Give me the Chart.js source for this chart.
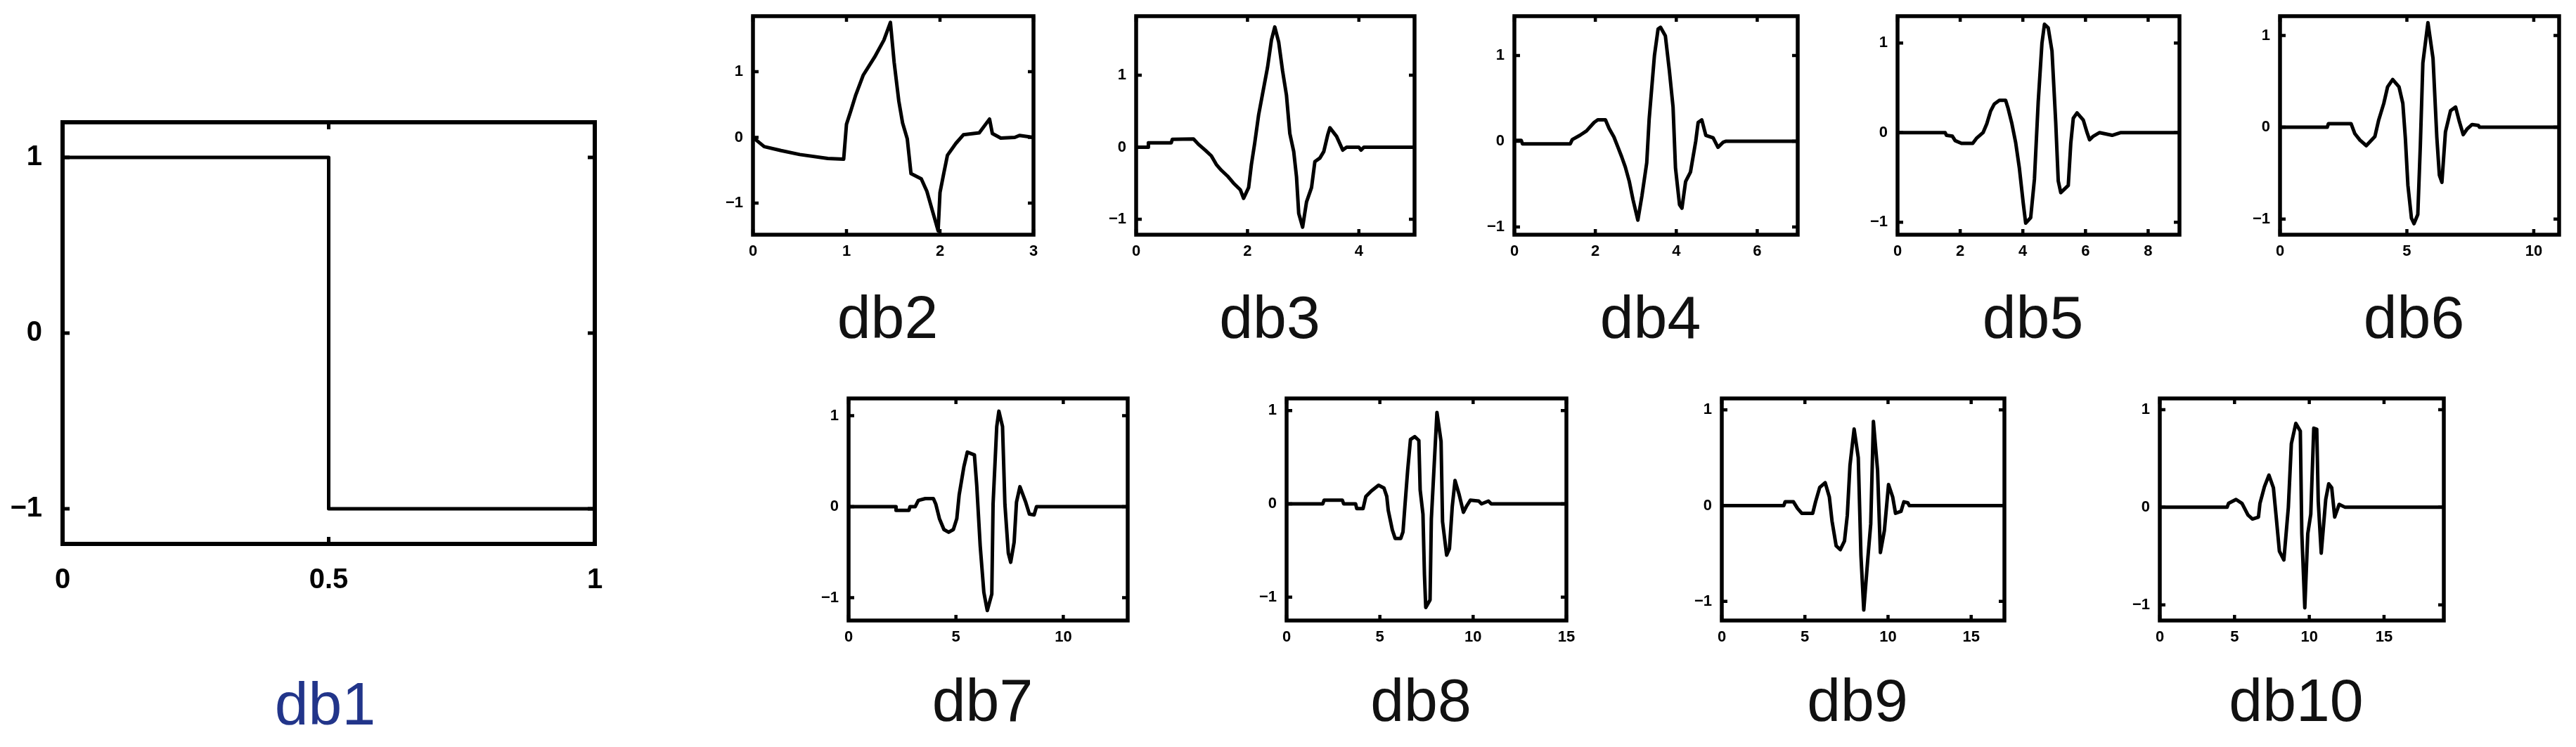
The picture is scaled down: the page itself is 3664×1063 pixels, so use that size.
<!DOCTYPE html>
<html>
<head>
<meta charset="utf-8">
<script src="https://cdn.jsdelivr.net/npm/chart.js@4.4.1/dist/chart.umd.min.js"></script>
<style>
  html, body { margin: 0; padding: 0; background: #fff; }
  body { width: 3664px; height: 1063px; position: relative; overflow: hidden; }
  .panel { position: absolute; }
</style>
</head>
<body>
<script>
// nombres de las ondículas
var nombres = ['db1', 'db2', 'db3', 'db4', 'db5', 'db6', 'db7', 'db8', 'db9', 'db10'];

// curvas (x, y)
var db1X = [0, 0.5, 0.5, 1];
var db1Y = [1, 1, -1, -1];

var db2X = [0, 0.12, 0.3, 0.5, 0.8, 0.97, 1.0, 1.05, 1.1, 1.18, 1.3, 1.4, 1.47, 1.51, 1.56, 1.6, 1.65, 1.69, 1.8, 1.86, 1.92, 1.98, 2.0, 2.04, 2.08, 2.17, 2.25, 2.42, 2.53, 2.56, 2.65, 2.8, 2.85, 3.0];
var db2Y = [0, -0.14, -0.2, -0.26, -0.32, -0.33, 0.2, 0.42, 0.65, 0.95, 1.22, 1.48, 1.75, 1.14, 0.55, 0.22, -0.02, -0.55, -0.63, -0.82, -1.12, -1.42, -0.84, -0.55, -0.27, -0.09, 0.04, 0.07, 0.28, 0.06, -0.01, 0.0, 0.03, 0.0];

var db3X = [0, 0.22, 0.22, 0.63, 0.65, 1.03, 1.12, 1.24, 1.35, 1.44, 1.53, 1.64, 1.75, 1.87, 1.93, 2.02, 2.07, 2.13, 2.2, 2.27, 2.36, 2.43, 2.49, 2.56, 2.63, 2.7, 2.76, 2.83, 2.88, 2.92, 2.99, 3.06, 3.15, 3.21, 3.3, 3.37, 3.44, 3.48, 3.6, 3.71, 3.78, 4.0, 4.04, 4.09, 5.0];
var db3Y = [0, 0, 0.06, 0.06, 0.11, 0.115, 0.04, -0.04, -0.12, -0.24, -0.32, -0.40, -0.50, -0.59, -0.71, -0.56, -0.24, 0.06, 0.45, 0.74, 1.11, 1.49, 1.67, 1.46, 1.06, 0.72, 0.19, -0.06, -0.41, -0.92, -1.11, -0.76, -0.56, -0.20, -0.15, -0.06, 0.17, 0.27, 0.15, -0.04, 0, 0, -0.04, 0, 0];

var db4X = [0, 0.17, 0.2, 1.38, 1.43, 1.62, 1.78, 1.97, 2.06, 2.25, 2.34, 2.46, 2.56, 2.65, 2.74, 2.84, 2.93, 3.05, 3.15, 3.27, 3.33, 3.46, 3.55, 3.61, 3.73, 3.83, 3.92, 3.98, 4.08, 4.14, 4.23, 4.35, 4.48, 4.54, 4.63, 4.73, 4.91, 5.03, 5.16, 5.22, 7];
var db4Y = [0.01, 0.01, -0.03, -0.03, 0.02, 0.07, 0.12, 0.22, 0.25, 0.25, 0.15, 0.05, -0.07, -0.18, -0.30, -0.47, -0.68, -0.92, -0.64, -0.25, 0.26, 1.0, 1.31, 1.33, 1.23, 0.82, 0.40, -0.31, -0.74, -0.78, -0.47, -0.36, 0, 0.22, 0.25, 0.07, 0.04, -0.07, -0.01, 0, 0];

var db5X = [0, 1.52, 1.56, 1.75, 1.84, 2.04, 2.40, 2.53, 2.73, 2.85, 2.97, 3.09, 3.25, 3.45, 3.53, 3.65, 3.77, 3.89, 4.01, 4.09, 4.25, 4.37, 4.49, 4.61, 4.69, 4.81, 4.93, 5.05, 5.13, 5.21, 5.45, 5.53, 5.61, 5.73, 5.93, 6.05, 6.13, 6.25, 6.45, 6.85, 7.13, 9];
var db5Y = [0, 0, -0.03, -0.04, -0.09, -0.12, -0.12, -0.06, 0, 0.10, 0.24, 0.32, 0.36, 0.36, 0.27, 0.10, -0.11, -0.40, -0.78, -1.01, -0.95, -0.52, 0.34, 1.0, 1.21, 1.17, 0.91, 0.11, -0.54, -0.67, -0.59, -0.12, 0.16, 0.22, 0.14, 0, -0.08, -0.04, 0, -0.03, 0, 0];

var db6X = [0, 1.86, 1.91, 2.80, 2.95, 3.15, 3.40, 3.74, 3.89, 4.09, 4.24, 4.44, 4.69, 4.84, 4.94, 5.04, 5.18, 5.28, 5.43, 5.53, 5.63, 5.83, 6.03, 6.18, 6.28, 6.38, 6.52, 6.72, 6.92, 7.07, 7.22, 7.37, 7.57, 7.82, 7.86, 11];
var db6Y = [0, 0, 0.04, 0.04, -0.07, -0.14, -0.20, -0.10, 0.08, 0.26, 0.44, 0.52, 0.44, 0.26, -0.12, -0.63, -0.99, -1.05, -0.95, -0.20, 0.70, 1.14, 0.75, -0.11, -0.52, -0.60, -0.05, 0.18, 0.22, 0.06, -0.08, -0.02, 0.03, 0.02, 0, 0];

var db7X = [0, 2.21, 2.21, 2.81, 2.86, 3.1, 3.25, 3.57, 3.95, 4.06, 4.23, 4.44, 4.66, 4.88, 5.04, 5.15, 5.37, 5.53, 5.86, 5.97, 6.13, 6.30, 6.41, 6.46, 6.67, 6.73, 6.90, 7.0, 7.17, 7.28, 7.44, 7.55, 7.71, 7.82, 7.98, 8.25, 8.42, 8.64, 8.75, 13];
var db7Y = [0, 0, -0.04, -0.04, 0, 0, 0.07, 0.09, 0.09, 0.03, -0.13, -0.25, -0.28, -0.25, -0.13, 0.13, 0.44, 0.60, 0.57, 0.23, -0.43, -0.94, -1.08, -1.14, -0.96, 0.03, 0.88, 1.05, 0.88, 0.03, -0.51, -0.61, -0.39, 0.05, 0.22, 0.05, -0.08, -0.09, 0, 0];

var db8X = [0, 1.94, 2.01, 2.99, 3.06, 3.7, 3.76, 4.10, 4.25, 4.55, 4.93, 5.22, 5.37, 5.45, 5.67, 5.82, 6.12, 6.24, 6.34, 6.49, 6.64, 6.87, 7.09, 7.16, 7.31, 7.39, 7.46, 7.69, 7.76, 7.91, 8.06, 8.28, 8.36, 8.58, 8.73, 8.88, 9.03, 9.25, 9.48, 9.63, 9.85, 10.30, 10.45, 10.82, 10.97, 15];
var db8Y = [0, 0, 0.04, 0.04, 0, 0, -0.05, -0.05, 0.08, 0.14, 0.20, 0.17, 0.08, -0.07, -0.28, -0.37, -0.37, -0.30, -0.03, 0.36, 0.69, 0.72, 0.68, 0.15, -0.11, -0.76, -1.11, -1.03, -0.16, 0.41, 0.98, 0.67, -0.19, -0.55, -0.48, -0.03, 0.25, 0.10, -0.09, -0.03, 0.04, 0.03, 0, 0.03, 0, 0];

var db9X = [0, 3.73, 3.81, 4.31, 4.56, 4.81, 5.47, 5.64, 5.89, 6.22, 6.47, 6.63, 6.88, 7.13, 7.38, 7.55, 7.71, 7.96, 8.21, 8.37, 8.54, 8.79, 8.96, 9.12, 9.37, 9.54, 9.78, 10.03, 10.28, 10.45, 10.78, 10.95, 11.19, 11.28, 17];
var db9Y = [0, 0, 0.04, 0.04, -0.03, -0.08, -0.08, 0.04, 0.19, 0.24, 0.09, -0.16, -0.42, -0.46, -0.37, -0.10, 0.42, 0.80, 0.50, -0.52, -1.09, -0.54, -0.19, 0.88, 0.37, -0.49, -0.26, 0.22, 0.09, -0.08, -0.06, 0.04, 0.03, 0, 0];

var db10X = [0, 4.5, 4.6, 5.1, 5.5, 5.9, 6.2, 6.6, 6.7, 7.0, 7.3, 7.6, 7.8, 8.0, 8.3, 8.6, 8.8, 9.1, 9.4, 9.5, 9.7, 9.9, 10.1, 10.3, 10.5, 10.6, 10.8, 11.1, 11.3, 11.5, 11.7, 12.0, 12.4, 19];
var db10Y = [0, 0, 0.04, 0.08, 0.04, -0.08, -0.12, -0.10, 0.04, 0.21, 0.33, 0.20, -0.12, -0.45, -0.54, 0.0, 0.65, 0.86, 0.78, -0.27, -1.03, -0.27, -0.07, 0.81, 0.80, 0.06, -0.47, 0.08, 0.24, 0.20, -0.10, 0.03, 0, 0];

// marcas de los ejes
var yTicks = [-1, 0, 1];
var db1Ticks = [0, 0.5, 1];
var db2Ticks = [0, 1, 2, 3];
var db3Ticks = [0, 2, 4];
var db4Ticks = [0, 2, 4, 6];
var db5Ticks = [0, 2, 4, 6, 8];
var db6Ticks = [0, 5, 10];
var db7Ticks = [0, 5, 10];
var db8Ticks = [0, 5, 10, 15];
var db9Ticks = [0, 5, 10, 15];
var db10Ticks = [0, 5, 10, 15];

// limites de cada eje [xMax, yMin, yMax]
var limites = [
    [1, -1.2, 1.2],
    [3, -1.48, 1.845],
    [5, -1.215, 1.82],
    [7, -1.09, 1.46],
    [9, -1.14, 1.30],
    [11, -1.17, 1.21],
    [13, -1.25, 1.19],
    [15, -1.25, 1.13],
    [17, -1.2, 1.12],
    [19, -1.16, 1.115]
];

var curvasX = [db1X, db2X, db3X, db4X, db5X, db6X, db7X, db8X, db9X, db10X];
var curvasY = [db1Y, db2Y, db3Y, db4Y, db5Y, db6Y, db7Y, db8Y, db9Y, db10Y];
var marcasX = [db1Ticks, db2Ticks, db3Ticks, db4Ticks, db5Ticks, db6Ticks, db7Ticks, db8Ticks, db9Ticks, db10Ticks];

// posicion del recuadro de cada grafico [izq, arriba, der, abajo]
var marcos = [
    [89, 174, 846, 774],
    [1071, 23, 1470, 334],
    [1616, 23, 2012, 334],
    [2154, 23, 2557, 334],
    [2699, 23, 3100, 334],
    [3243, 23, 3640, 334],
    [1207, 567, 1604, 883],
    [1830, 567, 2228, 883],
    [2449, 567, 2851, 883],
    [3072, 567, 3476, 883]
];

var fuente = "'Liberation Sans', Arial, Helvetica, sans-serif";
var grande = { yW: 85, yWr: 75, padTop: 20, xH: 90, tickF: 40, yPad: 29, xPad: 28, tituloF: 86, marcoW: 6, lineaW: 5, tickLen: 10 };
var chico = { yW: 60, yWr: 44, padTop: 12, xH: 50, tickF: 22, yPad: 14, xPad: 11, tituloF: 86, marcoW: 5.5, lineaW: 5, tickLen: 8 };

function etiqueta(v) {
    return v < 0 ? '\u2212' + Math.abs(v) : String(v);
}

// recuadro con marcas hacia adentro (estilo matlab)
var marco = {
    id: 'marco',
    afterDraw: function (chart) {
        var o = chart.options.plugins.marco;
        var ctx = chart.ctx;
        var a = chart.chartArea;
        var sx = chart.scales.x;
        var sy = chart.scales.y;
        ctx.save();
        ctx.strokeStyle = '#000';
        ctx.lineWidth = o.ancho;
        ctx.strokeRect(a.left, a.top, a.right - a.left, a.bottom - a.top);
        ctx.lineWidth = o.ancho - 1;
        ctx.beginPath();
        sx.ticks.forEach(function (t) {
            var px = sx.getPixelForValue(t.value);
            ctx.moveTo(px, a.bottom); ctx.lineTo(px, a.bottom - o.largo);
            ctx.moveTo(px, a.top); ctx.lineTo(px, a.top + o.largo);
        });
        sy.ticks.forEach(function (t) {
            var py = sy.getPixelForValue(t.value);
            ctx.moveTo(a.left, py); ctx.lineTo(a.left + o.largo, py);
            ctx.moveTo(a.right, py); ctx.lineTo(a.right - o.largo, py);
        });
        ctx.stroke();
        ctx.restore();
    }
};

function crearPanel(i) {
    var e = i === 0 ? grande : chico;
    var m = marcos[i];
    var L = m[0], T = m[1], R = m[2], B = m[3];
    var tituloPad = i === 0 ? 100 : (i <= 5 ? 30 : 26);
    var w = e.yW + (R - L) + e.yWr;
    var h = e.padTop + (B - T) + e.xH + tituloPad + e.tituloF + 6;

    var div = document.createElement('div');
    div.className = 'panel';
    div.style.left = (L - e.yW) + 'px';
    div.style.top = (T - e.padTop) + 'px';
    var canvas = document.createElement('canvas');
    canvas.width = w;
    canvas.height = h;
    canvas.style.width = w + 'px';
    canvas.style.height = h + 'px';
    div.appendChild(canvas);
    document.body.appendChild(div);

    var puntos = curvasX[i].map(function (x, k) {
        return { x: x, y: curvasY[i][k] };
    });
    var lim = limites[i];
    var fuenteTicks = { family: fuente, size: e.tickF, weight: 'bold' };

    new Chart(canvas, {
        type: 'line',
        data: {
            datasets: [{
                data: puntos,
                borderColor: '#000',
                borderWidth: e.lineaW,
                borderJoinStyle: 'round',
                pointRadius: 0,
                tension: 0,
                fill: false
            }]
        },
        plugins: [marco],
        options: {
            responsive: false,
            animation: false,
            devicePixelRatio: 1,
            layout: { padding: { top: e.padTop, left: 0, right: 0, bottom: 0 } },
            plugins: {
                legend: { display: false },
                tooltip: { enabled: false },
                marco: { ancho: e.marcoW, largo: e.tickLen },
                title: {
                    display: true,
                    text: nombres[i],
                    position: 'bottom',
                    color: i === 0 ? '#22358a' : '#111',
                    font: { family: fuente, size: e.tituloF, weight: 'normal', lineHeight: 1 },
                    padding: { top: tituloPad, bottom: 6 }
                }
            },
            scales: {
                x: {
                    type: 'linear',
                    min: 0,
                    max: lim[0],
                    afterBuildTicks: function (s) {
                        s.ticks = marcasX[i].map(function (v) { return { value: v }; });
                    },
                    afterFit: function (s) {
                        s.height = e.xH;
                        s.paddingLeft = 0;
                        s.paddingRight = 0;
                    },
                    grid: { display: false, drawTicks: false },
                    border: { display: false },
                    ticks: {
                        color: '#000', font: fuenteTicks, padding: e.xPad,
                        autoSkip: false, maxRotation: 0, callback: etiqueta
                    }
                },
                y: {
                    type: 'linear',
                    position: 'left',
                    min: lim[1],
                    max: lim[2],
                    afterBuildTicks: function (s) {
                        s.ticks = yTicks.map(function (v) { return { value: v }; });
                    },
                    afterFit: function (s) {
                        s.width = e.yW;
                        s.paddingTop = 0;
                        s.paddingBottom = 0;
                    },
                    grid: { display: false, drawTicks: false },
                    border: { display: false },
                    ticks: { color: '#000', font: fuenteTicks, padding: e.yPad, autoSkip: false, callback: etiqueta }
                },
                y2: {
                    type: 'linear',
                    position: 'right',
                    min: lim[1],
                    max: lim[2],
                    afterFit: function (s) {
                        s.width = e.yWr;
                        s.paddingTop = 0;
                        s.paddingBottom = 0;
                    },
                    grid: { display: false, drawTicks: false },
                    border: { display: false },
                    ticks: { display: false }
                }
            }
        }
    });
}

for (var i = 0; i < nombres.length; i++) {
    crearPanel(i);
}
</script>
</body>
</html>
